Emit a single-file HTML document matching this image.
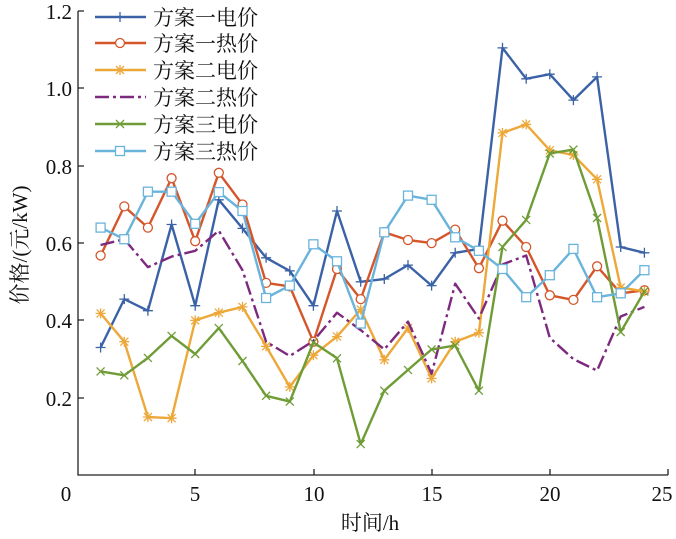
<!DOCTYPE html>
<html><head><meta charset="utf-8"><style>
html,body{margin:0;padding:0;background:#fff}
svg{display:block}
text{font-family:"Liberation Serif","Noto Serif CJK SC",serif;fill:#111}
.cjk{font-family:"Liberation Serif","Noto Serif CJK SC",serif}
</style></head><body>
<svg id="s" width="676" height="539" viewBox="0 0 676 539" xmlns="http://www.w3.org/2000/svg">
<g stroke="#222" stroke-width="1.3" fill="none">
<path d="M78 11 V475 H668"/>
<path d="M78 11 h6 M78 88 h6 M78 166 h6 M78 243 h6 M78 320 h6 M78 398 h6"/>
<path d="M195 475 v-6 M314 475 v-6 M432 475 v-6 M550 475 v-6 M668 475 v-6"/>
</g>
<g font-size="21" text-anchor="end">
<text x="72" y="19">1.2</text><text x="72" y="96">1.0</text><text x="72" y="174">0.8</text>
<text x="72" y="251">0.6</text><text x="72" y="328">0.4</text><text x="72" y="406">0.2</text>
</g>
<g font-size="21" text-anchor="middle">
<text x="66" y="501">0</text><text x="195" y="501">5</text><text x="314" y="501">10</text>
<text x="432" y="501">15</text><text x="550" y="501">20</text><text x="662" y="501">25</text>
</g>
<text class="cjk" x="370" y="530" font-size="21" text-anchor="middle">时间/h</text>
<text class="cjk" transform="translate(27,245) rotate(-90)" font-size="21" text-anchor="middle">价格/(元/kW)</text>
<g id="series"></g>
<g class="cjk" font-size="21">
<text x="153" y="25">方案一电价</text><text x="153" y="51">方案一热价</text>
<text x="153" y="78">方案二电价</text><text x="153" y="105">方案二热价</text>
<text x="153" y="132">方案三电价</text><text x="153" y="159">方案三热价</text>
</g>
</svg>
<script>
var D=[
["#3b62a6","plus",[0.33,0.455,0.425,0.648,0.438,0.712,0.638,0.562,0.528,0.438,0.683,0.50,0.507,0.543,0.49,0.575,0.585,1.105,1.025,1.037,0.97,1.03,0.59,0.575]],
["#d4562a","circ",[0.568,0.695,0.64,0.768,0.605,0.782,0.70,0.497,0.488,0.345,0.533,0.455,0.628,0.608,0.60,0.635,0.535,0.658,0.59,0.465,0.453,0.54,0.47,0.478]],
["#eda83a","star",[0.418,0.345,0.15,0.147,0.40,0.42,0.435,0.333,0.228,0.31,0.358,0.428,0.298,0.38,0.25,0.345,0.368,0.885,0.907,0.84,0.828,0.765,0.485,0.475]],
["#7d2a7e","dash",[0.595,0.61,0.538,0.565,0.58,0.632,0.53,0.345,0.308,0.347,0.42,0.375,0.325,0.397,0.262,0.495,0.405,0.545,0.568,0.355,0.30,0.27,0.41,0.435]],
["#6f9c36","x",[0.268,0.258,0.303,0.36,0.313,0.38,0.295,0.205,0.19,0.343,0.302,0.08,0.218,0.272,0.325,0.335,0.218,0.59,0.66,0.832,0.842,0.665,0.37,0.475]],
["#6ab4dc","sq",[0.64,0.61,0.733,0.733,0.65,0.732,0.683,0.458,0.49,0.597,0.553,0.392,0.628,0.723,0.712,0.615,0.58,0.533,0.46,0.517,0.585,0.46,0.47,0.53]]];
var ly=[17,43,70,97,124,151];
function mk(t,x,y,c){var s=5;
 if(t=="plus")return '<path d="M'+(x-s)+' '+y+'h'+2*s+'M'+x+' '+(y-s)+'v'+2*s+'" stroke="'+c+'" stroke-width="1.3"/>';
 if(t=="circ")return '<circle cx="'+x+'" cy="'+y+'" r="4.5" fill="#fff" stroke="'+c+'" stroke-width="1.3"/>';
 if(t=="sq")return '<rect x="'+(x-4.5)+'" y="'+(y-4.5)+'" width="9" height="9" fill="#fff" stroke="'+c+'" stroke-width="1.3"/>';
 if(t=="x")return '<path d="M'+(x-4)+' '+(y-4)+'l8 8M'+(x-4)+' '+(y+4)+'l8 -8" stroke="'+c+'" stroke-width="1.3"/>';
 if(t=="star")return '<path d="M'+(x-5)+' '+y+'h10M'+x+' '+(y-5)+'v10M'+(x-4)+' '+(y-4)+'l8 8M'+(x-4)+' '+(y+4)+'l8 -8" stroke="'+c+'" stroke-width="1.3"/>';
 return '';}
var h='';
D.forEach(function(d,i){var c=d[0],p=[];
 d[2].forEach(function(v,k){p.push((77+23.64*(k+1)).toFixed(1)+','+(475-386.5*v).toFixed(1));});
 var da=d[1]=="dash"?' stroke-dasharray="14 4 3 4"':'';
 h+='<polyline points="'+p.join(' ')+'" fill="none" stroke="'+c+'" stroke-width="2.4" stroke-linejoin="round"'+da+'/>';
 p.forEach(function(q){var a=q.split(',');h+=mk(d[1],+a[0],+a[1],c);});
 h+='<path d="M95 '+ly[i]+'H146" stroke="'+c+'" stroke-width="2.4"'+da+'/>'+mk(d[1],120,ly[i],c);
});
document.getElementById('series').innerHTML=h;
</script>
</body></html>
